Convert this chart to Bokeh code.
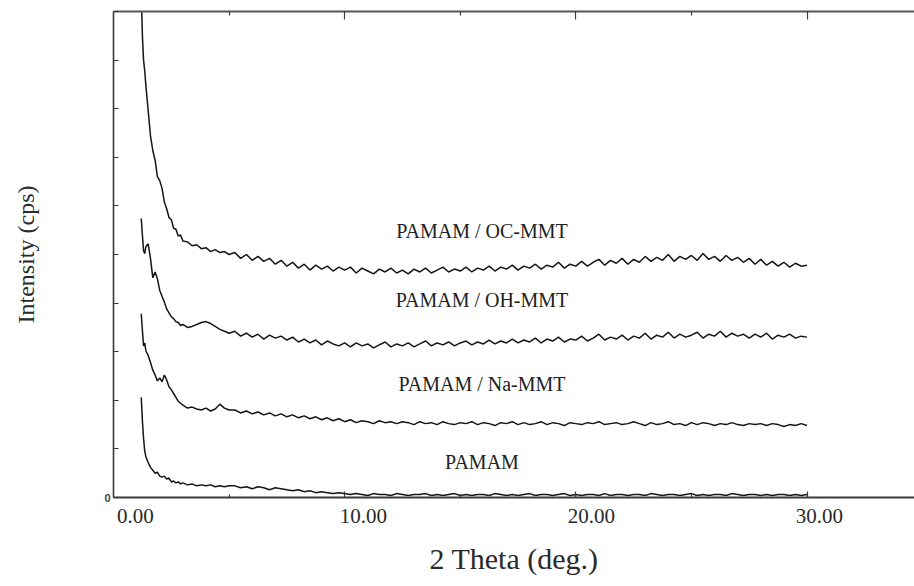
from bokeh.plotting import figure
from bokeh.models import Range1d, LinearAxis, FixedTicker
from bokeh.core.properties import value
from bokeh.embed import file_html
from bokeh.resources import INLINE

# 2 Theta (deg.) sample positions
two_theta = [
    1.20, 1.25, 1.30, 1.35, 1.40, 1.50, 1.60, 1.70, 1.80, 1.90,
    2.00, 2.10, 2.20, 2.30, 2.40, 2.50, 2.60, 2.70, 2.80, 2.90,
    3.00, 3.20, 3.40, 3.60, 3.80, 4.00, 4.20, 4.40, 4.60, 4.80, 5.00,
    5.25, 5.5, 5.75, 6.0, 6.25, 6.5, 6.75, 7.0, 7.25, 7.5,
    7.75, 8.0, 8.25, 8.5, 8.75, 9.0, 9.25, 9.5, 9.75, 10.0,
    10.25, 10.5, 10.75, 11.0, 11.25, 11.5, 11.75, 12.0, 12.25, 12.5,
    12.75, 13.0, 13.25, 13.5, 13.75, 14.0, 14.25, 14.5, 14.75, 15.0,
    15.25, 15.5, 15.75, 16.0, 16.25, 16.5, 16.75, 17.0, 17.25, 17.5,
    17.75, 18.0, 18.25, 18.5, 18.75, 19.0, 19.25, 19.5, 19.75, 20.0,
    20.25, 20.5, 20.75, 21.0, 21.25, 21.5, 21.75, 22.0, 22.25, 22.5,
    22.75, 23.0, 23.25, 23.5, 23.75, 24.0, 24.25, 24.5, 24.75, 25.0,
    25.25, 25.5, 25.75, 26.0, 26.25, 26.5, 26.75, 27.0, 27.25, 27.5,
    27.75, 28.0, 28.25, 28.5, 28.75, 29.0, 29.25, 29.5, 29.75, 30.0,
]

# Intensity (arbitrary cps units, curves offset as in the figure)
pamam = [
    103, 79, 61, 48, 42, 36, 31, 28, 25, 26,
    22, 21, 22, 19, 20, 16, 17, 15, 16, 14,
    15, 13, 14, 12, 13, 12, 13, 11, 12, 11, 12,
    12, 10, 11, 9, 11, 10, 8, 10, 9, 8,
    7, 8, 6, 7, 5, 6, 5, 4, 5, 4,
    3, 4, 3, 2, 4, 3, 3, 2, 4, 3,
    2, 3, 3, 4, 2, 3, 2, 3, 4, 2,
    3, 2, 3, 3, 2, 4, 3, 2, 3, 2,
    3, 4, 2, 3, 3, 2, 3, 4, 2, 3,
    2, 3, 3, 2, 4, 2, 3, 3, 2, 3,
    3, 2, 4, 3, 2, 3, 3, 2, 3, 4,
    2, 3, 2, 3, 3, 2, 4, 3, 2, 3,
    3, 2, 3, 2, 3, 3, 2, 3, 2, 3,
]

pamam_na = [
    189, 172, 156, 159, 151, 146, 139, 131, 126, 120,
    123, 119, 126, 121, 114, 111, 107, 103, 99, 97,
    95, 92, 93, 91, 90, 92, 89, 91, 96, 92, 90,
    90, 87, 89, 86, 88, 85, 87, 84, 86, 83,
    85, 82, 84, 81, 83, 80, 82, 79, 81, 78,
    80, 77, 79, 78, 76, 79, 77, 78, 76, 78,
    77, 75, 78, 76, 77, 75, 78, 76, 75, 77,
    76, 78, 75, 77, 76, 74, 77, 76, 78, 75,
    77, 75, 76, 78, 75, 77, 76, 74, 77, 76,
    75, 77, 76, 78, 75, 76, 77, 75, 76, 78,
    76, 74, 77, 75, 76, 78, 75, 76, 74, 77,
    75, 77, 76, 74, 76, 75, 77, 75, 74, 76,
    75, 76, 74, 76, 75, 73, 75, 74, 76, 74,
]

pamam_oh = [
    287, 270, 254, 251, 258, 261, 246, 226, 232, 225,
    213, 207, 201, 194, 190, 186, 184, 181, 180, 177,
    178, 175, 176, 178, 180, 181, 179, 176, 173, 171, 169,
    171, 166, 169, 165, 168, 163, 167, 164, 166, 162,
    165, 160, 163, 159, 162, 157, 161, 158, 156, 159,
    155, 159, 156, 158, 154, 157, 160, 155, 158, 156,
    159, 155, 158, 161, 156, 159, 157, 160, 156, 159,
    161, 157, 160, 158, 162, 158, 161, 159, 163, 159,
    162, 160, 164, 159, 163, 161, 165, 160, 163, 162,
    166, 161, 164, 168, 162, 165, 163, 167, 162, 166,
    164, 169, 163, 167, 165, 170, 164, 168, 165, 167,
    170, 164, 168, 166, 171, 165, 169, 166, 168, 164,
    168, 165, 169, 163, 167, 165, 168, 164, 166, 165,
]

pamam_oc = [
    520, 475, 450, 439, 424, 398, 372, 357, 347, 330,
    326, 318, 304, 297, 288, 286, 277, 276, 269, 270,
    264, 263, 259, 260, 256, 257, 253, 255, 252, 253, 250,
    252, 246, 250, 244, 248, 243, 246, 240, 244, 238,
    242, 236, 240, 234, 239, 235, 238, 233, 237, 234,
    237, 231, 236, 233, 230, 235, 232, 236, 231, 234,
    230, 235, 232, 236, 231, 234, 237, 232, 235, 233,
    237, 232, 236, 234, 238, 233, 237, 235, 239, 234,
    238, 236, 240, 235, 239, 237, 242, 236, 240, 238,
    243, 238, 242, 245, 239, 244, 241, 246, 240, 245,
    242, 248, 243, 247, 244, 250, 243, 248, 245, 249,
    244, 251, 245, 248, 243, 249, 244, 247, 242, 246,
    240, 245, 239, 243, 238, 242, 237, 241, 238, 239,
]

series = [pamam_oc, pamam_oh, pamam_na, pamam]
series_names = ["PAMAM / OC-MMT", "PAMAM / OH-MMT", "PAMAM / Na-MMT", "PAMAM"]
label_x = [15.94, 15.94, 15.94, 15.94]
label_y = [274, 203, 117, 37]

x_tick_values = [0, 10, 20, 30]
x_tick_labels = ["0.00", "10.00", "20.00", "30.00"]
y_ticks = [0, 50, 100, 150, 200, 250, 300, 350, 400, 450, 500]

FONT = "Liberation Serif"
INK = "#151515"
AXIS = "#3a3a3a"

p = figure(width=914, height=586, output_backend="svg", toolbar_location=None,
           x_range=Range1d(0, 34.65), y_range=Range1d(0, 500),
           x_axis_type=None, y_axis_type=None,
           min_border_left=113, min_border_right=0, min_border_top=11,
           min_border_bottom=89)
p.outline_line_color = None
p.background_fill_color = "white"
p.border_fill_color = "white"

# tick labels sit slightly right of their ticks in the original print
p.extra_x_ranges = {"tick_labels": Range1d(-0.965, 34.17)}

left = LinearAxis(ticker=FixedTicker(ticks=y_ticks),
                  major_tick_in=5, major_tick_out=0,
                  minor_tick_in=0, minor_tick_out=0,
                  major_label_overrides={t: ("0" if t == 0 else "") for t in y_ticks},
                  major_label_text_font="Liberation Sans",
                  major_label_text_font_style="bold",
                  major_label_text_font_size="11px",
                  major_label_standoff=3,
                  axis_line_color=AXIS, axis_line_width=1.6,
                  major_tick_line_color=AXIS, major_tick_line_width=1.2,
                  axis_label="Intensity (cps)",
                  axis_label_text_font=FONT,
                  axis_label_text_font_style="normal",
                  axis_label_text_font_size="24px",
                  axis_label_text_color="#2a2a2a",
                  axis_label_standoff=62)
p.add_layout(left, "left")

frame_ticks = FixedTicker(ticks=[10, 20, 30], minor_ticks=[5, 15, 25, 35])

top = LinearAxis(ticker=frame_ticks,
                 major_tick_in=8, major_tick_out=0,
                 minor_tick_in=4, minor_tick_out=0,
                 major_label_overrides={10: "", 20: "", 30: ""},
                 major_label_standoff=0,
                 axis_line_color="#555555", axis_line_width=1.8,
                 major_tick_line_color=AXIS, minor_tick_line_color=AXIS,
                 major_tick_line_width=1.2, minor_tick_line_width=1.2)
p.add_layout(top, "above")

bottom_ticks = LinearAxis(ticker=FixedTicker(ticks=[10, 20, 30], minor_ticks=[5, 15, 25, 35]),
                          major_tick_in=6, major_tick_out=0,
                          minor_tick_in=3, minor_tick_out=0,
                          major_label_overrides={10: "", 20: "", 30: ""},
                          major_label_standoff=0,
                          axis_line_color=AXIS, axis_line_width=1.8,
                          major_tick_line_color=AXIS, minor_tick_line_color=AXIS,
                          major_tick_line_width=1.2, minor_tick_line_width=1.2)
p.add_layout(bottom_ticks, "below")

bottom_labels = LinearAxis(x_range_name="tick_labels",
                           ticker=FixedTicker(ticks=x_tick_values),
                           major_label_overrides=dict(zip(x_tick_values, x_tick_labels)),
                           major_tick_in=0, major_tick_out=0,
                           minor_tick_in=0, minor_tick_out=0,
                           axis_line_color=None,
                           major_label_text_font=FONT,
                           major_label_text_font_size="21px",
                           major_label_text_color="#2a2a2a",
                           major_label_standoff=11,
                           axis_label="2 Theta (deg.)",
                           axis_label_text_font=FONT,
                           axis_label_text_font_style="normal",
                           axis_label_text_font_size="30px",
                           axis_label_text_color="#2a2a2a",
                           axis_label_standoff=16)
p.add_layout(bottom_labels, "below")

for ys in series:
    p.line(two_theta, ys, line_color=INK, line_width=1.5)

p.text(x=label_x, y=label_y, text=series_names,
       text_font=value(FONT), text_font_size="20px",
       text_align="center", text_baseline="middle", text_color="#222222")

open("out.html", "w").write(file_html(p, INLINE))
